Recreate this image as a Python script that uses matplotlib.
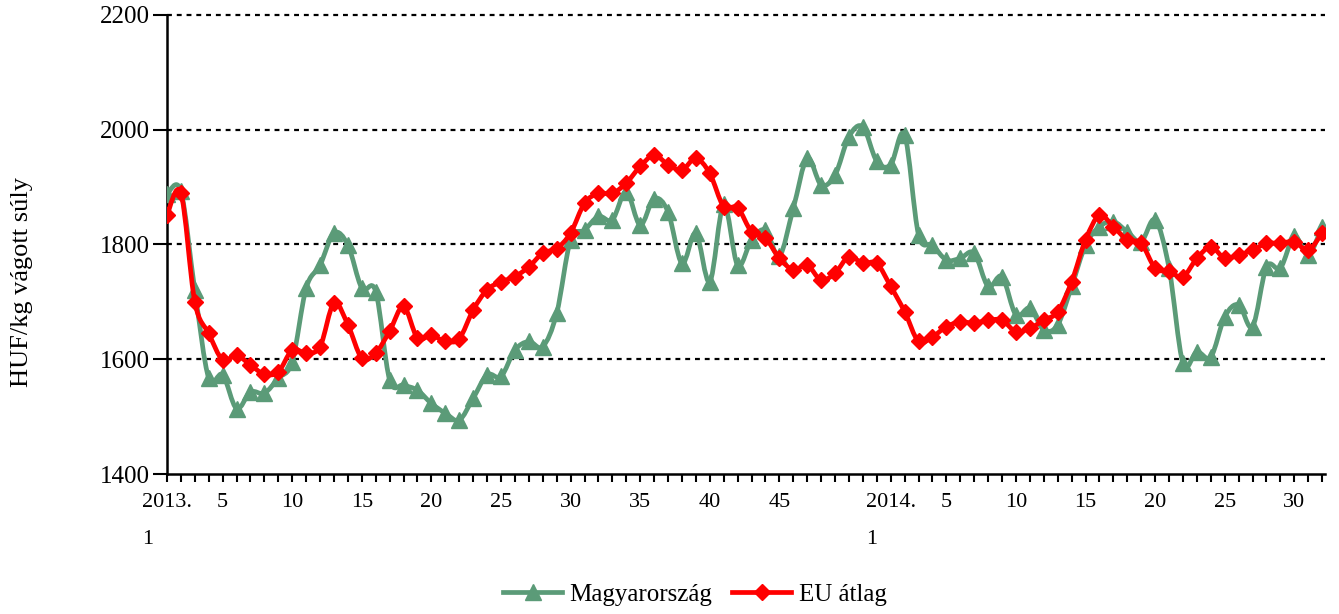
import matplotlib.pyplot as plt
import numpy as np
from matplotlib.path import Path
from matplotlib.patches import PathPatch
from matplotlib.lines import Line2D

plt.rcParams['font.family'] = ['Liberation Serif', 'DejaVu Serif']

# heti árak, 2013. 1. hét - 2014. 32. hét (HUF/kg vágott súly)
hu = [1888, 1893, 1720, 1567, 1573, 1514, 1543, 1541, 1567, 1596,
      1724, 1764, 1820, 1799, 1724, 1718, 1564, 1555, 1546, 1523,
      1506, 1494, 1532, 1573, 1570, 1616, 1631, 1622, 1680, 1808,
      1825, 1849, 1843, 1892, 1834, 1880, 1857, 1767, 1820, 1735,
      1870, 1764, 1808, 1825, 1780, 1863, 1950, 1904, 1921, 1988,
      2005, 1945, 1939, 1991, 1817, 1799, 1773, 1776, 1785, 1727,
      1744, 1677, 1689, 1651, 1660, 1727, 1799, 1831, 1840, 1822,
      1805, 1843, 1759, 1593, 1613, 1604, 1674, 1695, 1657, 1761,
      1759, 1814, 1782, 1831]
eu = [1851, 1890, 1700, 1645, 1599, 1607, 1590, 1574, 1578, 1616,
      1611, 1622, 1698, 1660, 1602, 1611, 1649, 1692, 1637, 1642,
      1631, 1636, 1686, 1721, 1735, 1744, 1761, 1785, 1793, 1820,
      1872, 1889, 1889, 1907, 1936, 1956, 1939, 1930, 1950, 1924,
      1866, 1864, 1822, 1811, 1776, 1756, 1764, 1738, 1750, 1779,
      1767, 1767, 1727, 1683, 1631, 1639, 1657, 1665, 1663, 1668,
      1668, 1648, 1654, 1668, 1683, 1735, 1808, 1851, 1831, 1808,
      1802, 1759, 1753, 1744, 1776, 1796, 1776, 1782, 1790, 1802,
      1802, 1805, 1790, 1820]

label_pos = [0, 4, 9, 14, 19, 24, 29, 34, 39, 44, 52, 56, 61, 66, 71, 76, 81]
label_txt = ['2013.\n1', '5', '10', '15', '20', '25', '30', '35', '40', '45',
             '2014.\n1', '5', '10', '15', '20', '25', '30']
series_names = ['Magyarország', 'EU átlag']

green = '#5b9b78'
red = '#ff0000'


def smooth_path(x, y):
    # excel-szerű simított vonal: bezier görbe a pontokon át
    pts = np.column_stack([x, y]).astype(float)
    n = len(pts)
    verts = [pts[0]]
    codes = [Path.MOVETO]
    for i in range(n - 1):
        p0 = pts[i - 1] if i > 0 else pts[i]
        p1 = pts[i]
        p2 = pts[i + 1]
        p3 = pts[i + 2] if i + 2 < n else pts[i + 1]
        c1 = p1 + (p2 - p0) / 6.0
        c2 = p2 - (p3 - p1) / 6.0
        verts += [c1, c2, p2]
        codes += [Path.CURVE4] * 3
    return Path(verts, codes)


fig = plt.figure(figsize=(13.39, 6.14), dpi=100)
ax = fig.add_axes([0.1247, 0.228, 0.8648, 0.7476])

x = np.arange(len(hu))

ax.add_patch(PathPatch(smooth_path(x, hu), fill=False, edgecolor=green, lw=3.4,
                       zorder=3, capstyle='round', joinstyle='round'))
ax.plot(x, hu, linestyle='none', marker='^', color=green, markersize=11, zorder=4)
ax.add_patch(PathPatch(smooth_path(x, eu), fill=False, edgecolor=red, lw=3.4,
                       zorder=5, capstyle='round', joinstyle='round'))
ax.plot(x, eu, linestyle='none', marker='D', color=red, markersize=8.5, zorder=6)

ax.set_xlim(0, len(hu) - 0.8)
ax.set_ylim(1400, 2200)
ax.set_yticks(np.arange(1400, 2201, 200))
for v in [1600, 1800, 2000, 2200]:
    ax.axhline(v, color='black', lw=1.6, linestyle=(0, (2.2, 2.2)), zorder=1, clip_on=False)

ax.set_xticks(x, minor=True)
ax.set_xticks(label_pos)
ax.set_xticklabels(label_txt)
for lbl in ax.get_xticklabels():
    lbl.set_multialignment('left')
    lbl.set_linespacing(2.25)
ax.tick_params(axis='x', which='both', direction='out', length=6, width=1.5, pad=8, labelsize=16)
ax.tick_params(axis='y', direction='out', length=10, width=1.5, pad=2, labelsize=18)

for s in ['top', 'right']:
    ax.spines[s].set_visible(False)
for s in ['left', 'bottom']:
    ax.spines[s].set_linewidth(1.8)

fig.text(22 / 1339, 1 - 282 / 614, 'HUF/kg vágott súly', rotation=90,
         ha='center', va='center', fontsize=19)

handles = [Line2D([], [], color=green, lw=3.4, marker='^', markersize=11),
           Line2D([], [], color=red, lw=3.4, marker='D', markersize=8.5)]
fig.legend(handles, series_names, loc='center', bbox_to_anchor=(0.519, 0.031),
           ncol=2, frameon=False, fontsize=18, handlelength=2.35,
           handletextpad=0.3, columnspacing=0.8)

fig.savefig('out.png', dpi=100)
